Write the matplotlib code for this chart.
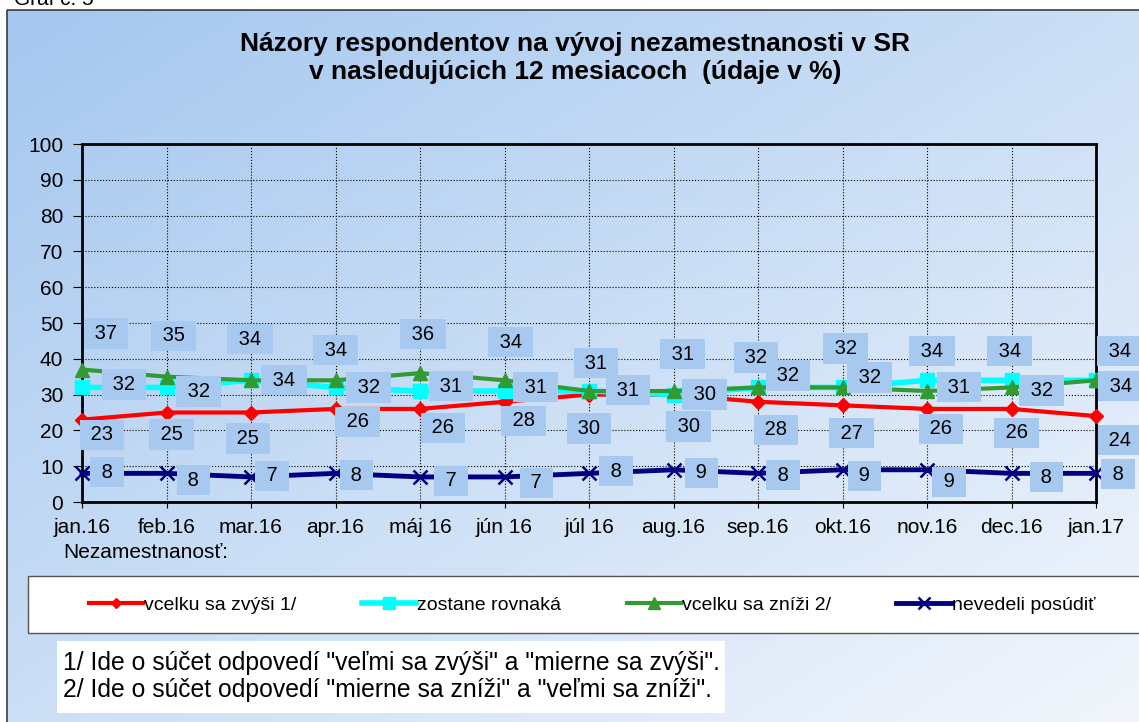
import numpy as np
import matplotlib.pyplot as plt
from matplotlib.patches import Rectangle

plt.rcParams['font.family'] = ['Liberation Sans', 'DejaVu Sans']

W, H = 1139, 722

months = ['jan.16', 'feb.16', 'mar.16', 'apr.16', 'máj 16', 'jún 16', 'júl 16',
          'aug.16', 'sep.16', 'okt.16', 'nov.16', 'dec.16', 'jan.17']
zvysi = [23, 25, 25, 26, 26, 28, 30, 30, 28, 27, 26, 26, 24]
rovnaka = [32, 32, 34, 32, 31, 31, 31, 30, 32, 32, 34, 34, 34]
znizi = [37, 35, 34, 34, 36, 34, 31, 31, 32, 32, 31, 32, 34]
nevedeli = [8, 8, 7, 8, 7, 7, 8, 9, 8, 9, 9, 8, 8]
names = ['vcelku sa zvýši 1/', 'zostane rovnaká', 'vcelku sa zníži 2/', 'nevedeli posúdiť']

title = ('Názory respondentov na vývoj nezamestnanosti v SR\n'
         'v nasledujúcich 12 mesiacoch  (údaje v %)')
note1 = '1/ Ide o súčet odpovedí "veľmi sa zvýši" a "mierne sa zvýši".'
note2 = '2/ Ide o súčet odpovedí "mierne sa zníži" a "veľmi sa zníži".'

# where the data labels sit relative to their point (pixels: right, down)
off_zvysi = [(20, 15), (5, 22), (-3, 26), (22, 13), (23, 19), (19, 19), (0, 34),
             (15, 32), (18, 28), (9, 28), (14, 20), (5, 24), (24, 24)]
off_rovnaka = [(42, -3), (32, 4), (33, 0), (33, 0), (31, -5), (31, -4), (39, -1),
               (31, 0), (30, -12), (27, -10), (5, -29), (-2, -29), (25, 6)]
off_znizi = [(24, -36), (7, -41), (-1, -41), (0, -30), (3, -39), (6, -38), (7, -28),
             (9, -37), (-2, -30), (3, -39), (32, -4), (30, 3), (24, -29)]
off_nevedeli = [(25, -1), (27, 7), (21, -1), (21, 2), (31, 4), (32, 6), (27, -2),
                (28, 3), (25, 2), (22, 6), (22, 12), (35, 4), (22, 1)]

fig = plt.figure(figsize=(W / 100, H / 100), dpi=100)

# background panel with the blue gradient
bg = fig.add_axes([0, 0, 1, 1], zorder=-10)
gx, gy = np.meshgrid(np.linspace(0, 1, 300), np.linspace(0, 1, 200))
t = np.clip(0.5 * gx + 0.5 * gy, 0, 1)[..., None]
c0 = np.array([164, 199, 239]) / 255
c1 = np.array([242, 246, 252]) / 255
bg.imshow(c0 * (1 - t) + c1 * t, extent=[7, W, H, 10], aspect='auto', interpolation='bilinear')
bg.set_xlim(0, W)
bg.set_ylim(H, 0)
bg.axis('off')
bg.add_patch(Rectangle((7, 10), W, H, fill=False, ec='#3c3c3c', lw=1.2))
bg.add_patch(Rectangle((28, 576), W, 57, fc='white', ec='#555555', lw=1))
bg.add_patch(Rectangle((57, 641), 668, 72, fc='white', ec='none'))
bg.text(63, 663, note1, va='center', fontsize=17.8)
bg.text(63, 690, note2, va='center', fontsize=17.8)
bg.text(63, 552, 'Nezamestnanosť:', va='center', fontsize=15)
bg.text(575, 58, title, ha='center', va='center', fontsize=19, fontweight='bold')
bg.text(14, 5, 'Graf č. 5', va='baseline', fontsize=15)

ax = fig.add_axes([82 / W, 1 - 502 / H, 1014 / W, 358 / H])
ax.set_facecolor('none')
x = np.arange(len(months))

l1, = ax.plot(x, zvysi, color='#ff0000', lw=3, marker='D', ms=7, zorder=3, clip_on=False)
l2, = ax.plot(x, rovnaka, color='#00ffff', lw=4, marker='s', ms=10, zorder=4, clip_on=False)
l3, = ax.plot(x, znizi, color='#339933', lw=3, marker='^', ms=10, zorder=5, clip_on=False)
l4, = ax.plot(x, nevedeli, color='#000080', lw=3.5, marker='x', ms=10, mew=1.8, zorder=6,
              clip_on=False)

for vals, offs in [(zvysi, off_zvysi), (rovnaka, off_rovnaka),
                   (znizi, off_znizi), (nevedeli, off_nevedeli)]:
    for i, (v, (dx, dy)) in enumerate(zip(vals, offs)):
        ax.annotate(f' {v} ', (i, v), xytext=(dx, -dy), textcoords='offset pixels',
                    ha='center', va='center', fontsize=14.5, zorder=10,
                    annotation_clip=False,
                    bbox=dict(boxstyle='square,pad=0.28', fc='#a7c9ef', ec='none'))

ax.set_xlim(0, 12)
ax.set_ylim(0, 100)
ax.set_xticks(x, months)
ax.set_yticks(range(0, 101, 10))
ax.tick_params(axis='x', length=4.5, pad=7, labelsize=15)
ax.tick_params(axis='y', length=6.5, pad=7, labelsize=15)
ax.grid(True, color='black', linestyle=':', lw=0.8)
for s in ax.spines.values():
    s.set_linewidth(2)

fig.legend([l1, l2, l3, l4], names, loc='center', bbox_to_anchor=(592 / W, 1 - 605 / H),
           ncol=4, frameon=False, fontsize=14, handlelength=2.8, handletextpad=0.05,
           columnspacing=3.36, markerscale=0.8)

fig.savefig('out.png', dpi=100)
